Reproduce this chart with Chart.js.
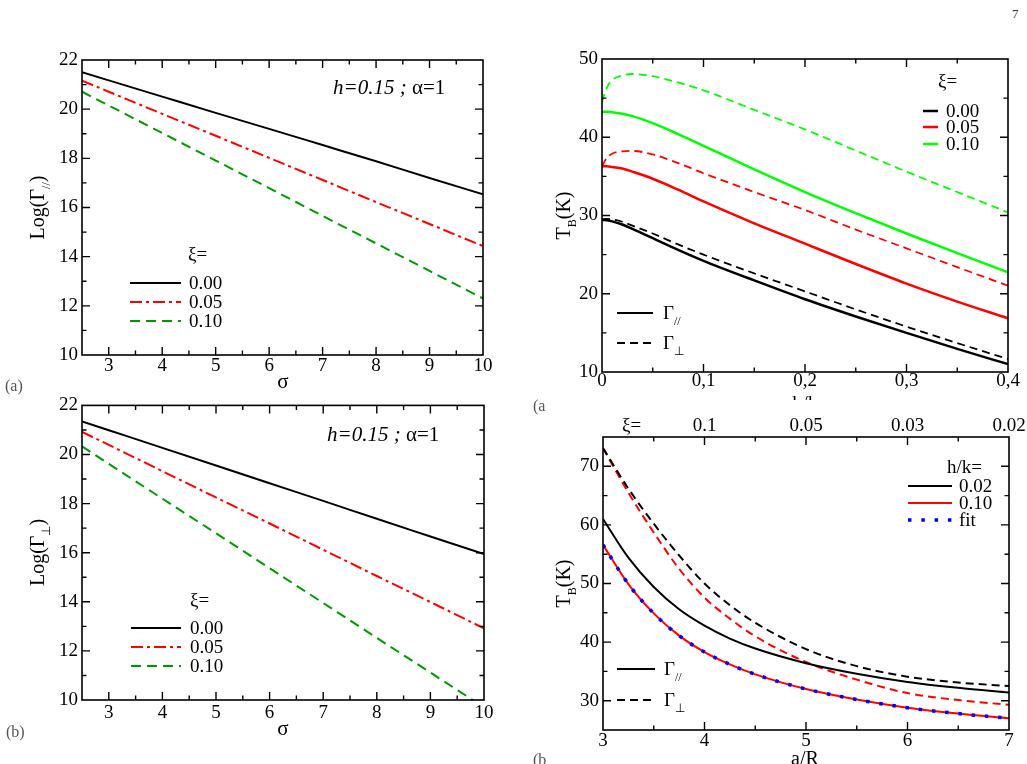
<!DOCTYPE html>
<html>
<head>
<meta charset="utf-8">
<title>Log(Gamma) and blocking temperature panels</title>
<script src="https://cdn.jsdelivr.net/npm/chart.js@4.4.1/dist/chart.umd.min.js"></script>
<style>
  body { margin: 0; background: #fff; }
  #page { position: relative; width: 1027px; height: 764px; overflow: hidden; font-family: "Liberation Serif", serif; }
  #page canvas { position: absolute; }
  .tag { position: absolute; font-size: 16px; line-height: 16px; color: #555; }
</style>
</head>
<body>
<div id="page">
  <canvas id="chartA" width="500" height="360" style="left:0;top:40px"></canvas>
  <canvas id="chartB" width="507" height="360" style="left:520px;top:40px"></canvas>
  <canvas id="chartC" width="500" height="374" style="left:0;top:390px"></canvas>
  <canvas id="chartD" width="507" height="374" style="left:520px;top:390px"></canvas>
  <div class="tag" style="left:5px;top:378px">(a)</div>
  <div class="tag" style="left:6px;top:724px">(b)</div>
  <div class="tag" style="left:533px;top:398px">(a</div>
  <div class="tag" style="left:533px;top:752px">(b</div>
  <div class="tag" style="left:1012px;top:6px;font-size:13px;color:#333">7</div>
</div>

<script>
// --- left column: Log(Gamma) vs sigma, h=0.15, alpha=1
var sigma = [2.5, 3, 4, 5, 6, 7, 8, 9, 10];
var sigmaTicks = [3, 4, 5, 6, 7, 8, 9, 10];
var logTicks = [10, 12, 14, 16, 18, 20, 22];
var xiLegend = ['0.00', '0.05', '0.10'];

var logGpar000 = [21.5, 21.17, 20.51, 19.85, 19.2, 18.54, 17.88, 17.2, 16.54];
var logGpar005 = [21.16, 20.71, 19.81, 18.92, 18.02, 17.12, 16.22, 15.33, 14.43];
var logGpar010 = [20.71, 20.15, 19.03, 17.91, 16.79, 15.66, 14.54, 13.42, 12.3];

var logGperp000 = [21.35, 20.99, 20.27, 19.55, 18.83, 18.11, 17.38, 16.66, 15.94];
var logGperp005 = [20.92, 20.39, 19.32, 18.25, 17.19, 16.12, 15.05, 13.99, 12.92];
var logGperp010 = [20.33, 19.62, 18.2, 16.79, 15.37, 13.95, 12.53, 11.12, 9.7];

// --- top right: T_B vs h/k
var hk = [0, 0.005, 0.01, 0.02, 0.03, 0.05, 0.075, 0.1, 0.15, 0.2, 0.25, 0.3, 0.35, 0.4];
var hkTicks = [0, 0.1, 0.2, 0.3, 0.4];
var hkTickLabels = ['0', '0,1', '0,2', '0,3', '0,4'];
var tbTicks = [10, 20, 30, 40, 50];

var tbPar000 = [29.42, 29.38, 29.25, 28.85, 28.3, 27.1, 25.6, 24.2, 21.7, 19.3, 17.1, 15.0, 12.95, 11.0];
var tbPerp000 = [29.5, 29.55, 29.5, 29.2, 28.7, 27.7, 26.3, 25.0, 22.6, 20.3, 18.0, 15.8, 13.7, 11.66];
var tbPar005 = [36.3, 36.3, 36.2, 36.0, 35.6, 34.7, 33.3, 31.8, 29.0, 26.4, 23.8, 21.3, 19.0, 16.86];
var tbPerp005 = [36.3, 37.4, 37.9, 38.2, 38.25, 37.8, 36.7, 35.4, 33.0, 30.7, 28.2, 25.8, 23.4, 21.03];
var tbPar010 = [43.27, 43.25, 43.2, 43.0, 42.7, 41.8, 40.4, 38.9, 35.9, 33.0, 30.3, 27.7, 25.2, 22.74];
var tbPerp010 = [44.55, 46.4, 47.3, 47.9, 48.08, 47.8, 47.0, 46.0, 43.5, 41.0, 38.3, 35.6, 33.0, 30.4];

// --- bottom right: T_B vs a/R
var aR = [3, 3.25, 3.5, 3.75, 4, 4.25, 4.5, 5, 5.5, 6, 6.5, 7];
var aRTicks = [3, 4, 5, 6, 7];
var tbRTicks = [30, 40, 50, 60, 70];
var xiTopPos = [4, 5, 6, 7];
var xiTopLabels = ['0.1', '0.05', '0.03', '0.02'];
var hkLegend = ['0.02', '0.10', 'fit'];

var tbParR002 = [61.0, 54.4, 49.4, 45.6, 42.8, 40.6, 38.9, 36.4, 34.6, 33.2, 32.2, 31.4];
var tbParR010 = [56.6, 49.9, 44.9, 41.1, 38.3, 36.2, 34.5, 32.0, 30.2, 28.8, 27.8, 27.0];
var tbPerpR002 = [73.1, 66.2, 60.2, 54.8, 50.0, 46.3, 43.3, 38.8, 35.9, 34.1, 33.1, 32.5];
var tbPerpR010 = [73.1, 65.5, 58.7, 52.5, 47.6, 44.0, 41.0, 36.6, 33.6, 31.3, 30.1, 29.3];
var tbFitR = [56.6, 49.9, 44.9, 41.1, 38.3, 36.2, 34.5, 32.0, 30.2, 28.8, 27.8, 27.0];

var SERIF = '"Liberation Serif", "Times New Roman", serif';
var tickFont = { family: SERIF, size: 19 };
var GREEN_DK = '#009a00';
var GREEN = '#00ff00';

function pts(xs, ys) {
    return xs.map(function (x, i) { return { x: x, y: ys[i] }; });
}

function line(xs, ys, color, width, dash) {
    return {
        data: pts(xs, ys),
        borderColor: color,
        borderWidth: width,
        borderDash: dash || [],
        pointRadius: 0,
        fill: false,
        xAxisID: 'x',
        cubicInterpolationMode: 'monotone'
    };
}

function fixedTicks(list) {
    return function (s) { s.ticks = list.map(function (v) { return { value: v }; }); };
}

function xAxis(min, max, ticks, h, pad, labels) {
    return {
        type: 'linear', position: 'bottom', min: min, max: max,
        afterBuildTicks: fixedTicks(ticks),
        afterFit: function (s) { s.height = h; },
        grid: { display: false, drawTicks: false },
        border: { display: false },
        ticks: {
            color: '#000', font: tickFont, padding: pad, maxRotation: 0, autoSkip: false,
            callback: function (v, i) { return labels ? labels[i] : String(v); }
        }
    };
}

function yAxis(min, max, ticks, w, pad) {
    return {
        type: 'linear', position: 'left', min: min, max: max,
        afterBuildTicks: fixedTicks(ticks),
        afterFit: function (s) { s.width = w; },
        grid: { display: false, drawTicks: false },
        border: { display: false },
        ticks: {
            color: '#000', font: tickFont, padding: pad, autoSkip: false,
            callback: function (v) { return String(v); }
        }
    };
}

// inward ticks on all four sides, xmgrace style
function tickSteps(min, max, major, minor) {
    var out = [];
    for (var n = Math.ceil(min / minor - 1e-6); n * minor <= max + 1e-9; n++) {
        var v = n * minor;
        if (Math.abs(v - min) < 1e-9 || Math.abs(v - max) < 1e-9) continue;
        var r = v / major;
        out.push({ v: v, major: Math.abs(r - Math.round(r)) < 1e-6 });
    }
    return out;
}

var frameTicks = {
    id: 'frameTicks',
    afterDatasetsDraw: function (chart, args, opts) {
        var ctx = chart.ctx, a = chart.chartArea;
        var sx = chart.scales.x, sy = chart.scales.y;
        ctx.save();
        ctx.strokeStyle = '#000';
        ctx.lineWidth = 1.4;
        tickSteps(sx.min, sx.max, opts.x[0], opts.x[1]).forEach(function (t) {
            var p = sx.getPixelForValue(t.v), len = t.major ? 8 : 4.5;
            ctx.beginPath();
            ctx.moveTo(p, a.bottom); ctx.lineTo(p, a.bottom - len);
            ctx.moveTo(p, a.top); ctx.lineTo(p, a.top + len);
            ctx.stroke();
        });
        tickSteps(sy.min, sy.max, opts.y[0], opts.y[1]).forEach(function (t) {
            var p = sy.getPixelForValue(t.v), len = t.major ? 8 : 4.5;
            ctx.beginPath();
            ctx.moveTo(a.left, p); ctx.lineTo(a.left + len, p);
            ctx.moveTo(a.right, p); ctx.lineTo(a.right - len, p);
            ctx.stroke();
        });
        ctx.lineWidth = 1.6;
        ctx.strokeRect(a.left, a.top, a.right - a.left, a.bottom - a.top);
        ctx.restore();
    }
};

function fontFor(style, size) {
    if (style === 'i') return 'italic ' + size + 'px ' + SERIF;
    if (style === 'sub') return Math.round(size * 0.62) + 'px ' + SERIF;
    return size + 'px ' + SERIF;
}

function drawRich(ctx, x, y, parts, size, align, rot) {
    ctx.save();
    ctx.translate(x, y);
    if (rot) ctx.rotate(rot);
    ctx.fillStyle = '#000';
    ctx.textBaseline = 'alphabetic';
    var w = 0;
    parts.forEach(function (p) { ctx.font = fontFor(p[1], size); w += ctx.measureText(p[0]).width; });
    var cx = align === 'center' ? -w / 2 : 0;
    parts.forEach(function (p) {
        ctx.font = fontFor(p[1], size);
        ctx.fillText(p[0], cx, p[1] === 'sub' ? size * 0.3 : 0);
        cx += ctx.measureText(p[0]).width;
    });
    ctx.restore();
}

// texts and legend samples, given in page coordinates
var extras = {
    id: 'extras',
    afterDraw: function (chart, args, opts) {
        var ctx = chart.ctx;
        (opts.items || []).forEach(function (it) {
            if (it.kind === 'line') {
                ctx.save();
                ctx.strokeStyle = it.color;
                ctx.lineWidth = it.width;
                ctx.setLineDash(it.dash || []);
                ctx.beginPath();
                ctx.moveTo(it.x1 - opts.ox, it.y - opts.oy);
                ctx.lineTo(it.x2 - opts.ox, it.y - opts.oy);
                ctx.stroke();
                ctx.restore();
            } else {
                drawRich(ctx, it.x - opts.ox, it.y - opts.oy, it.parts, it.size || 19, it.align, it.rot);
            }
        });
    }
};

Chart.register(frameTicks, extras);

function txt(x, y, parts, size, align, rot) {
    return { kind: 'text', x: x, y: y, parts: parts, size: size, align: align, rot: rot };
}
function sample(x1, x2, y, color, width, dash) {
    return { kind: 'line', x1: x1, x2: x2, y: y, color: color, width: width, dash: dash };
}

function makeChart(id, datasets, scales, pad, ticksOpt, ox, oy, items) {
    return new Chart(document.getElementById(id), {
        type: 'line',
        data: { datasets: datasets },
        options: {
            responsive: false,
            animation: false,
            events: [],
            layout: { padding: pad },
            plugins: {
                legend: { display: false },
                tooltip: { enabled: false },
                frameTicks: ticksOpt,
                extras: { ox: ox, oy: oy, items: items }
            },
            scales: scales
        }
    });
}

var DASHDOT = [12, 4, 3, 4];
var DASH = [10, 6];
var DASH_B = [8, 5];
var DOTS = [3.5, 9.8];
var UP = -Math.PI / 2;

function draw() {
    // top-left
    makeChart('chartA', [
        line(sigma, logGpar000, '#000', 2),
        line(sigma, logGpar005, '#ff0000', 2, DASHDOT),
        line(sigma, logGpar010, GREEN_DK, 2, DASH)
    ], {
        x: xAxis(2.5, 10, sigmaTicks, 45, 0),
        y: yAxis(10, 22, logTicks, 82, 4)
    }, { top: 20, right: 17, left: 0, bottom: 0 }, { x: [1, 0.5], y: [2, 1] }, 0, 40, [
        txt(333, 94, [['h=0.15 ;', 'i'], [' α=1', '']], 21),
        txt(188, 260, [['ξ=', '']], 19),
        sample(130, 181, 283, '#000', 2),
        sample(130, 181, 302, '#ff0000', 2, DASHDOT),
        sample(130, 181, 321, GREEN_DK, 2, DASH),
        txt(189, 289, [[xiLegend[0], '']], 19),
        txt(189, 308, [[xiLegend[1], '']], 19),
        txt(189, 327, [[xiLegend[2], '']], 19),
        txt(283, 388, [['σ', '']], 21, 'center'),
        txt(44, 207.5, [['Log(Γ', ''], ['//', 'sub'], [')', '']], 20, 'center', UP)
    ]);

    // top-right
    makeChart('chartB', [
        line(hk, tbPar000, '#000', 2.5),
        line(hk, tbPerp000, '#000', 1.8, DASH_B),
        line(hk, tbPar005, '#ff0000', 2.5),
        line(hk, tbPerp005, '#ff0000', 1.8, DASH_B),
        line(hk, tbPar010, GREEN, 2.5),
        line(hk, tbPerp010, GREEN, 1.8, DASH_B)
    ], {
        x: xAxis(0, 0.4, hkTicks, 28, -2, hkTickLabels),
        y: yAxis(10, 50, tbTicks, 82, 4)
    }, { top: 19, right: 19, left: 0, bottom: 0 }, { x: [0.1, 0.05], y: [10, 5] }, 520, 40, [
        txt(938, 87, [['ξ=', '']], 19),
        sample(923, 938, 111, '#000', 2.5),
        sample(923, 938, 127, '#ff0000', 2.5),
        sample(923, 938, 144, GREEN, 2.5),
        txt(946, 117, [[xiLegend[0], '']], 19),
        txt(946, 133, [[xiLegend[1], '']], 19),
        txt(946, 150, [[xiLegend[2], '']], 19),
        sample(617, 653, 313, '#000', 2),
        sample(617, 653, 343, '#000', 2, DASH_B),
        txt(663, 319, [['Γ', ''], ['//', 'sub']], 19),
        txt(663, 349, [['Γ', ''], ['⊥', 'sub']], 19),
        txt(570, 215.5, [['T', ''], ['B', 'sub'], ['(K)', '']], 20, 'center', UP),
        txt(805, 410, [['h/k', '']], 20, 'center')
    ]);

    // bottom-left
    makeChart('chartC', [
        line(sigma, logGperp000, '#000', 2),
        line(sigma, logGperp005, '#ff0000', 2, DASHDOT),
        line(sigma, logGperp010, GREEN_DK, 2, DASH)
    ], {
        x: xAxis(2.5, 10, sigmaTicks, 64, 2),
        y: yAxis(10, 22, logTicks, 82, 4)
    }, { top: 15, right: 16, left: 0, bottom: 0 }, { x: [1, 0.5], y: [2, 1] }, 0, 390, [
        txt(327, 441, [['h=0.15 ;', 'i'], [' α=1', '']], 21),
        txt(190, 606, [['ξ=', '']], 19),
        sample(131, 181, 628, '#000', 2),
        sample(131, 181, 647, '#ff0000', 2, DASHDOT),
        sample(131, 181, 666, GREEN_DK, 2, DASH),
        txt(190, 634, [[xiLegend[0], '']], 19),
        txt(190, 653, [[xiLegend[1], '']], 19),
        txt(190, 672, [[xiLegend[2], '']], 19),
        txt(283, 735, [['σ', '']], 21, 'center'),
        txt(44, 552.5, [['Log(Γ', ''], ['⊥', 'sub'], [')', '']], 20, 'center', UP)
    ]);

    // bottom-right
    var topAxis = xAxis(3, 7, xiTopPos, 47, 0, xiTopLabels);
    topAxis.position = 'top';
    makeChart('chartD', [
        line(aR, tbFitR, '#0000ff', 3.5, DOTS),
        line(aR, tbParR002, '#000', 2),
        line(aR, tbParR010, '#ff0000', 2),
        line(aR, tbPerpR002, '#000', 2, DASH_B),
        line(aR, tbPerpR010, '#ff0000', 2, DASH_B)
    ], {
        x: xAxis(3, 7, aRTicks, 34, 0),
        xTop: topAxis,
        y: yAxis(25, 75, tbRTicks, 83, 4)
    }, { top: 0, right: 18, left: 0, bottom: 0 }, { x: [1, 0.5], y: [10, 5] }, 520, 390, [
        txt(622, 431, [['ξ=', '']], 19),
        txt(947, 473, [['h/k=', '']], 19),
        sample(908, 952, 486, '#000', 2),
        sample(908, 952, 503, '#ff0000', 2),
        sample(908, 952, 520, '#0000ff', 3.5, DOTS),
        txt(959, 492, [[hkLegend[0], '']], 19),
        txt(959, 509, [[hkLegend[1], '']], 19),
        txt(959, 526, [[hkLegend[2], '']], 19),
        sample(617, 655, 669, '#000', 2),
        sample(617, 655, 700, '#000', 2, DASH_B),
        txt(664, 675, [['Γ', ''], ['//', 'sub']], 19),
        txt(664, 706, [['Γ', ''], ['⊥', 'sub']], 19),
        txt(570, 583.5, [['T', ''], ['B', 'sub'], ['(K)', '']], 20, 'center', UP),
        txt(805, 765, [['a/R', '']], 20, 'center')
    ]);
}

if (document.fonts && document.fonts.ready) {
    document.fonts.ready.then(draw);
} else {
    draw();
}
</script>
</body>
</html>
